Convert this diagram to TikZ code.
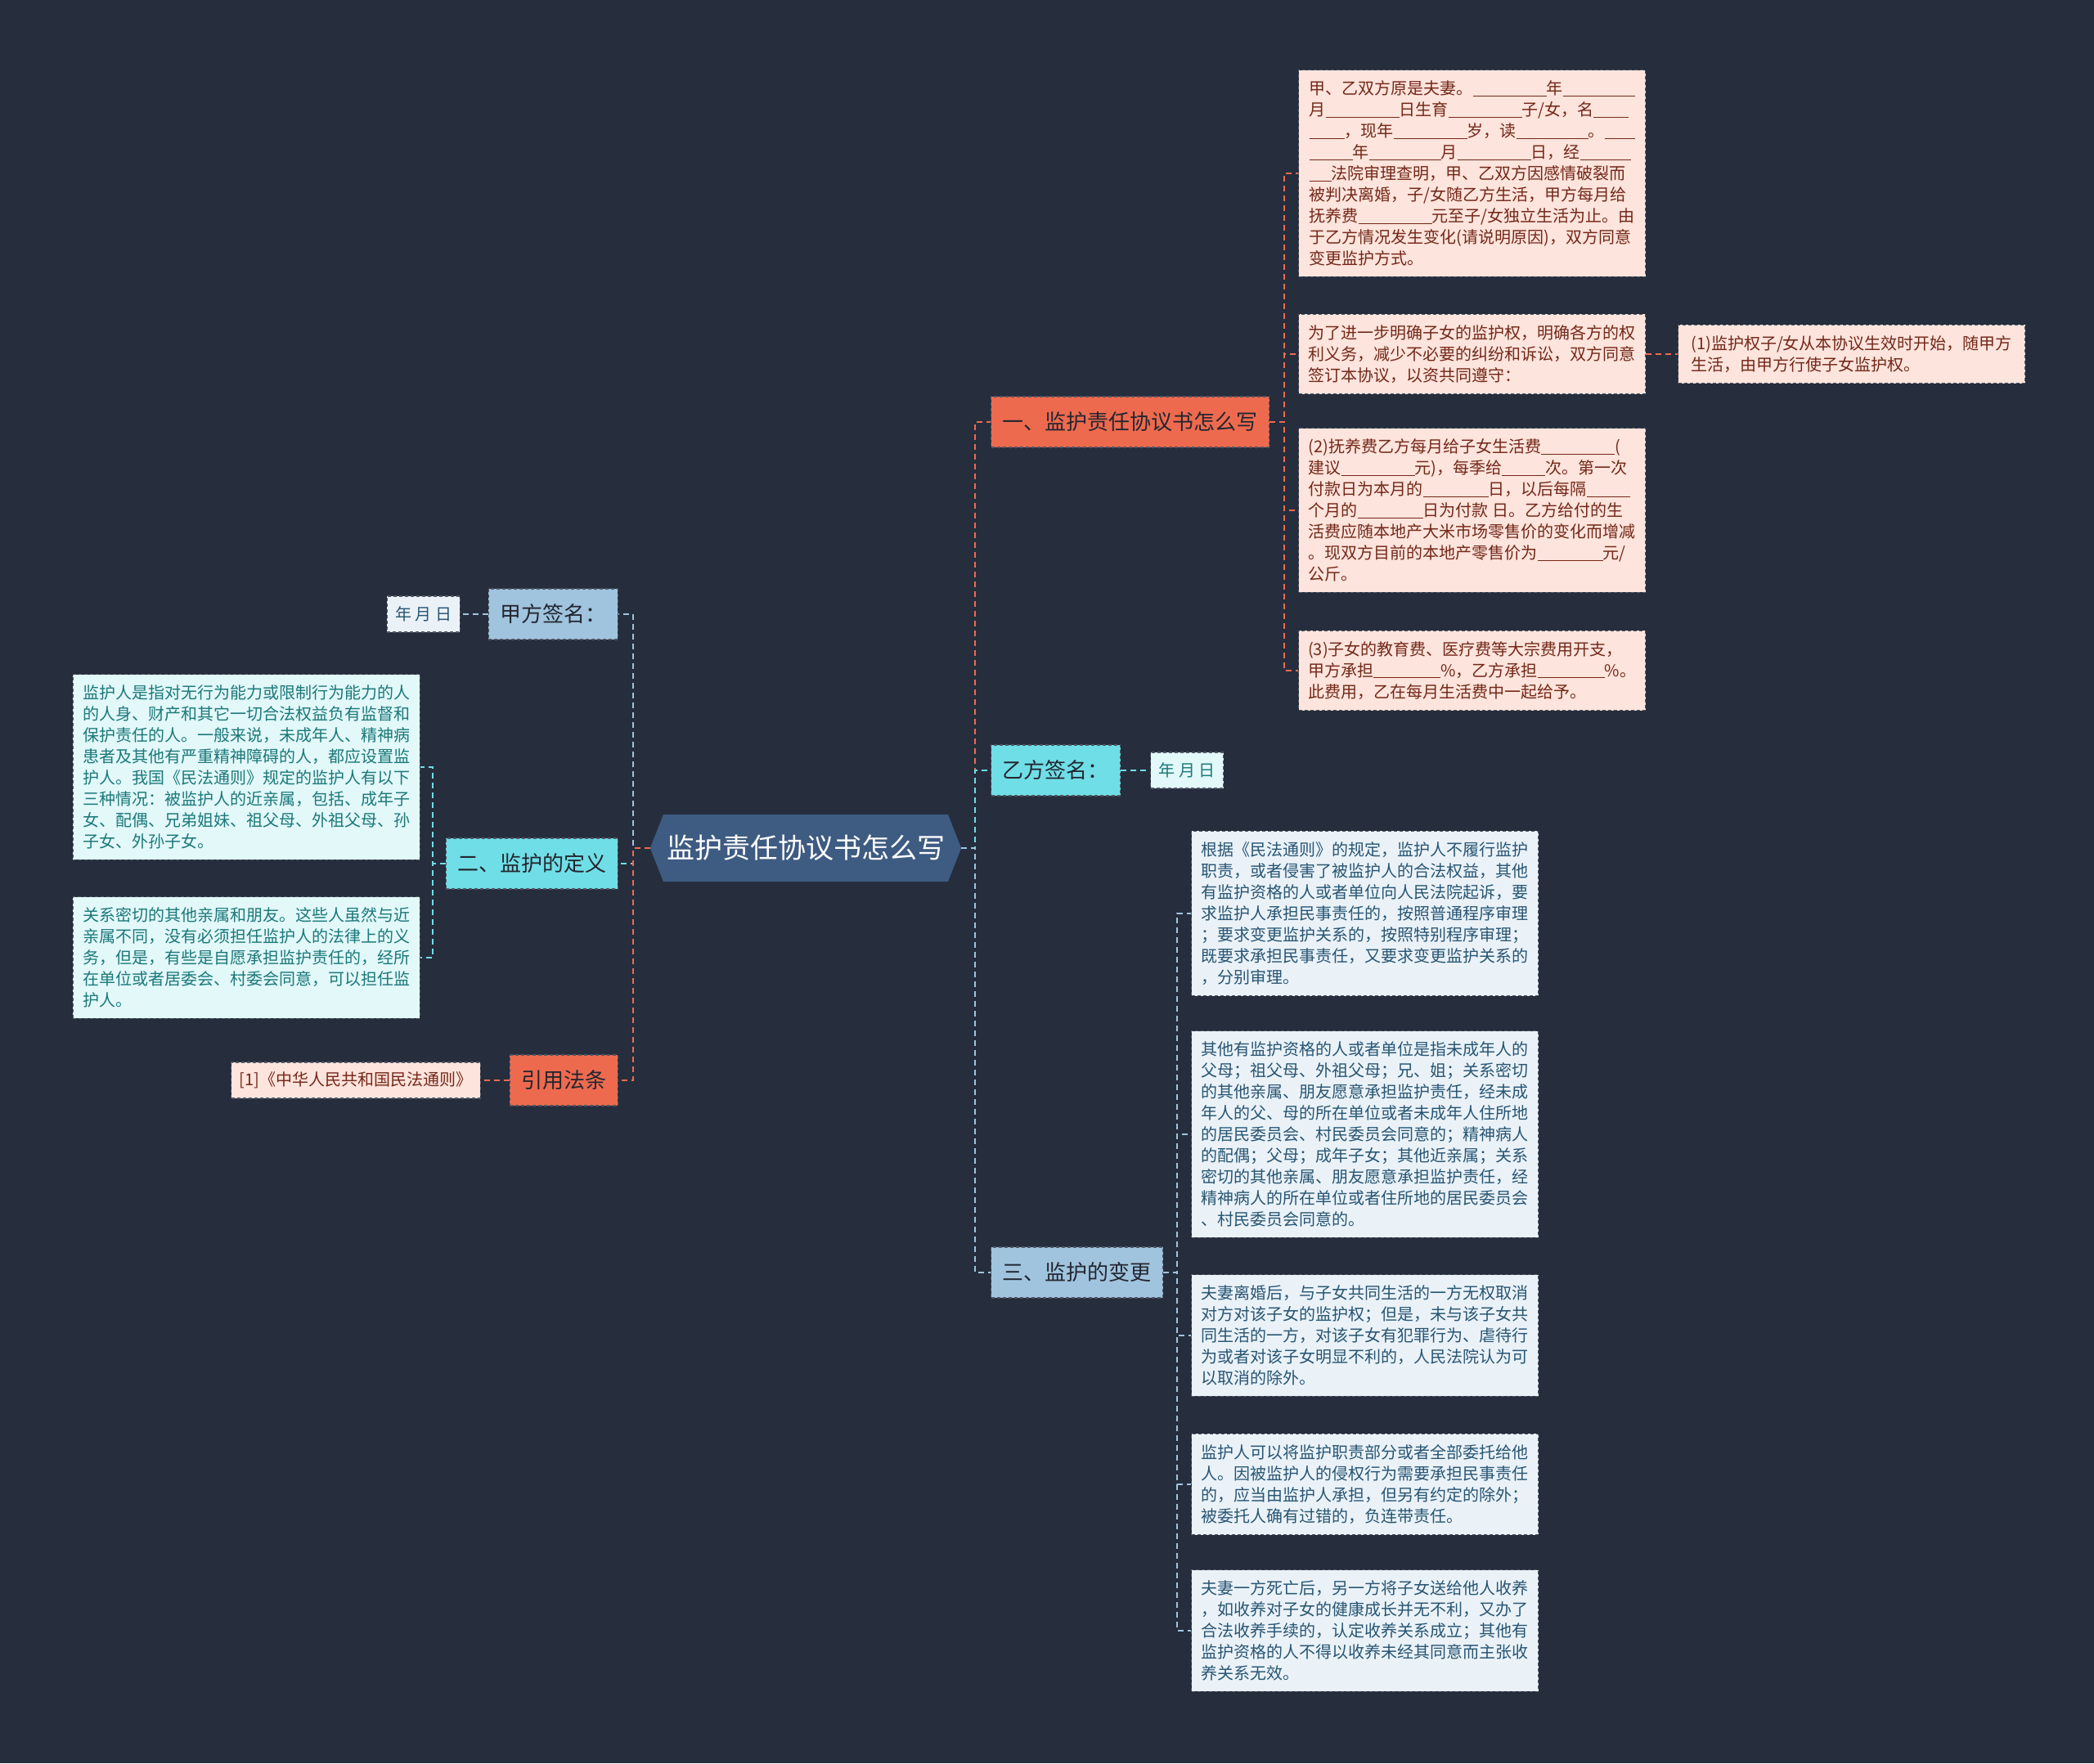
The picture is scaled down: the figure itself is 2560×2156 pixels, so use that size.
\documentclass[tikz,border=0pt]{standalone}
\usepackage{fontspec}
\setmainfont{Noto Sans CJK SC}
\usetikzlibrary{shapes.symbols}

\definecolor{bgnavy}{RGB}{38,46,61}
\definecolor{rootblue}{RGB}{62,91,130}
\definecolor{coral}{RGB}{238,106,78}
\definecolor{aqua}{RGB}{112,222,230}
\definecolor{steel}{RGB}{160,196,222}
\definecolor{pinkfill}{RGB}{253,228,220}
\definecolor{pinktext}{RGB}{115,40,25}
\definecolor{aquafill}{RGB}{226,248,249}
\definecolor{aquatext}{RGB}{28,120,122}
\definecolor{palefill}{RGB}{234,242,248}
\definecolor{paletext}{RGB}{40,85,115}
\definecolor{edgegray}{RGB}{80,86,100}
\definecolor{darktext}{RGB}{35,38,48}

% blank line to fill in
\newcommand{\fb}[1]{\rule[-2pt]{#1pt}{1pt}}

\begin{document}
\begin{tikzpicture}[x=1pt,y=-1pt,
    box/.style={rectangle, draw=edgegray, line width=1.2pt, dash pattern=on 4pt off 3pt},
    mainnode/.style={shape=signal, signal to=east and west, signal pointer angle=137, fill=rootblue, text=white, font=\fontsize{34}{40}\selectfont, minimum height=82pt, inner xsep=4pt},
    branch/.style={box, fill=#1, text=darktext, font=\fontsize{26}{30}\selectfont, minimum height=62pt, inner xsep=14pt},
    datebox/.style={box, font=\fontsize{20}{24}\selectfont, minimum height=44pt, inner xsep=10pt},
    leaf/.style={box, font=\fontsize{20}{26}\selectfont, align=left, minimum width=424pt, inner xsep=11pt, inner ysep=13pt},
    pinkleaf/.style={leaf, fill=pinkfill, text=pinktext},
    aqualeaf/.style={leaf, fill=aquafill, text=aquatext},
    paleleaf/.style={leaf, fill=palefill, text=paletext},
    branchline/.style={draw=#1, line width=2.2pt, dash pattern=on 7pt off 5pt}]

    % Background
    \fill[bgnavy] (0,0) rectangle (2560,2156);

    % Main hexagon
    \node[mainnode] (main) at (985,1037) {监护责任协议书怎么写};

    % Right branches
    \node[branch=coral, anchor=west] (duty) at (1211,516) {一、监护责任协议书怎么写};
    \node[branch=aqua, anchor=west] (signb) at (1211,942) {乙方签名：};
    \node[branch=steel, anchor=west] (change) at (1211,1556) {三、监护的变更};

    % Left branches
    \node[branch=steel, anchor=east] (signa) at (756,751) {甲方签名：};
    \node[branch=aqua, anchor=east] (define) at (756,1056) {二、监护的定义};
    \node[branch=coral, anchor=east] (law) at (756,1321) {引用法条};

    % Date and reference boxes
    \node[datebox, fill=aquafill, text=aquatext, anchor=west] (dateb) at (1406,942) {年 月 日};
    \node[datebox, fill=palefill, text=paletext, anchor=east] (datea) at (563,751) {年 月 日};
    \node[datebox, fill=pinkfill, text=pinktext, anchor=east] (lawref) at (588,1321) {[1]《中华人民共和国民法通则》};

    % Agreement text boxes
    \node[pinkleaf, anchor=west] (duty1) at (1587,212) {甲、乙双方原是夫妻。\fb{90}年\fb{88}\\
月\fb{90}日生育\fb{90}子/女，名\fb{43}\\
\fb{43}，现年\fb{90}岁，读\fb{88}。\fb{37}\\
\fb{53}年\fb{88}月\fb{90}日，经\fb{62}\\
\fb{27}法院审理查明，甲、乙双方因感情破裂而\\
被判决离婚，子/女随乙方生活，甲方每月给\\
抚养费\fb{90}元至子/女独立生活为止。由\\
于乙方情况发生变化(请说明原因)，双方同意\\
变更监护方式。};
    \node[pinkleaf, anchor=west] (duty2) at (1587,433) {为了进一步明确子女的监护权，明确各方的权\\
利义务，减少不必要的纠纷和诉讼，双方同意\\
签订本协议，以资共同遵守：};
    \node[pinkleaf, anchor=west] (duty2b) at (2051,433) {(1)监护权子/女从本协议生效时开始，随甲方\\
生活，由甲方行使子女监护权。};
    \node[pinkleaf, anchor=west] (duty3) at (1587,624) {(2)抚养费乙方每月给子女生活费\fb{90}(\\
建议\fb{90}元)，每季给\fb{53}次。第一次\\
付款日为本月的\fb{80}日，以后每隔\fb{53}\\
个月的\fb{80}日为付款 日。乙方给付的生\\
活费应随本地产大米市场零售价的变化而增减\\
。现双方目前的本地产零售价为\fb{80}元/\\
公斤。};
    \node[pinkleaf, anchor=west] (duty4) at (1587,820) {(3)子女的教育费、医疗费等大宗费用开支，\\
甲方承担\fb{82}\%，乙方承担\fb{82}\%。\\
此费用，乙在每月生活费中一起给予。};

    % Definition text boxes
    \node[aqualeaf, anchor=east] (define1) at (514,938) {监护人是指对无行为能力或限制行为能力的人\\
的人身、财产和其它一切合法权益负有监督和\\
保护责任的人。一般来说，未成年人、精神病\\
患者及其他有严重精神障碍的人，都应设置监\\
护人。我国《民法通则》规定的监护人有以下\\
三种情况：被监护人的近亲属，包括、成年子\\
女、配偶、兄弟姐妹、祖父母、外祖父母、孙\\
子女、外孙子女。};
    \node[aqualeaf, anchor=east] (define2) at (514,1171) {关系密切的其他亲属和朋友。这些人虽然与近\\
亲属不同，没有必须担任监护人的法律上的义\\
务，但是，有些是自愿承担监护责任的，经所\\
在单位或者居委会、村委会同意，可以担任监\\
护人。};

    % Change text boxes
    \node[paleleaf, anchor=west] (change1) at (1456,1117) {根据《民法通则》的规定，监护人不履行监护\\
职责，或者侵害了被监护人的合法权益，其他\\
有监护资格的人或者单位向人民法院起诉，要\\
求监护人承担民事责任的，按照普通程序审理\\
；要求变更监护关系的，按照特别程序审理；\\
既要求承担民事责任，又要求变更监护关系的\\
，分别审理。};
    \node[paleleaf, anchor=west] (change2) at (1456,1387) {其他有监护资格的人或者单位是指未成年人的\\
父母；祖父母、外祖父母；兄、姐；关系密切\\
的其他亲属、朋友愿意承担监护责任，经未成\\
年人的父、母的所在单位或者未成年人住所地\\
的居民委员会、村民委员会同意的；精神病人\\
的配偶；父母；成年子女；其他近亲属；关系\\
密切的其他亲属、朋友愿意承担监护责任，经\\
精神病人的所在单位或者住所地的居民委员会\\
、村民委员会同意的。};
    \node[paleleaf, anchor=west] (change3) at (1456,1633) {夫妻离婚后，与子女共同生活的一方无权取消\\
对方对该子女的监护权；但是，未与该子女共\\
同生活的一方，对该子女有犯罪行为、虐待行\\
为或者对该子女明显不利的，人民法院认为可\\
以取消的除外。};
    \node[paleleaf, anchor=west] (change4) at (1456,1815) {监护人可以将监护职责部分或者全部委托给他\\
人。因被监护人的侵权行为需要承担民事责任\\
的，应当由监护人承担，但另有约定的除外；\\
被委托人确有过错的，负连带责任。};
    \node[paleleaf, anchor=west] (change5) at (1456,1994) {夫妻一方死亡后，另一方将子女送给他人收养\\
，如收养对子女的健康成长并无不利，又办了\\
合法收养手续的，认定收养关系成立；其他有\\
监护资格的人不得以收养未经其同意而主张收\\
养关系无效。};

    % Lines from the main hexagon
    \draw[branchline=coral] (main.east) -- ++(17,0) |- (duty.west);
    \draw[branchline=aqua] (main.east) -- ++(17,0) |- (signb.west);
    \draw[branchline=steel] (main.east) -- ++(17,0) |- (change.west);
    \draw[branchline=steel] (main.west) -- ++(-21,0) |- (signa.east);
    \draw[branchline=aqua] (main.west) -- ++(-21,0) |- (define.east);
    \draw[branchline=coral] (main.west) -- ++(-21,0) |- (law.east);

    % Lines to the leaves
    \draw[branchline=coral] (duty.east) -- ++(18,0) |- (duty1.west);
    \draw[branchline=coral] (duty.east) -- ++(18,0) |- (duty2.west);
    \draw[branchline=coral] (duty.east) -- ++(18,0) |- (duty3.west);
    \draw[branchline=coral] (duty.east) -- ++(18,0) |- (duty4.west);
    \draw[branchline=coral] (duty2.east) -- (duty2b.west);
    \draw[branchline=aqua] (signb.east) -- (dateb.west);
    \draw[branchline=steel] (change.east) -- ++(17,0) |- (change1.west);
    \draw[branchline=steel] (change.east) -- ++(17,0) |- (change2.west);
    \draw[branchline=steel] (change.east) -- ++(17,0) |- (change3.west);
    \draw[branchline=steel] (change.east) -- ++(17,0) |- (change4.west);
    \draw[branchline=steel] (change.east) -- ++(17,0) |- (change5.west);
    \draw[branchline=steel] (signa.west) -- (datea.east);
    \draw[branchline=aqua] (define.west) -- ++(-16,0) |- (define1.east);
    \draw[branchline=aqua] (define.west) -- ++(-16,0) |- (define2.east);
    \draw[branchline=coral] (law.west) -- (lawref.east);
\end{tikzpicture}
\end{document}
